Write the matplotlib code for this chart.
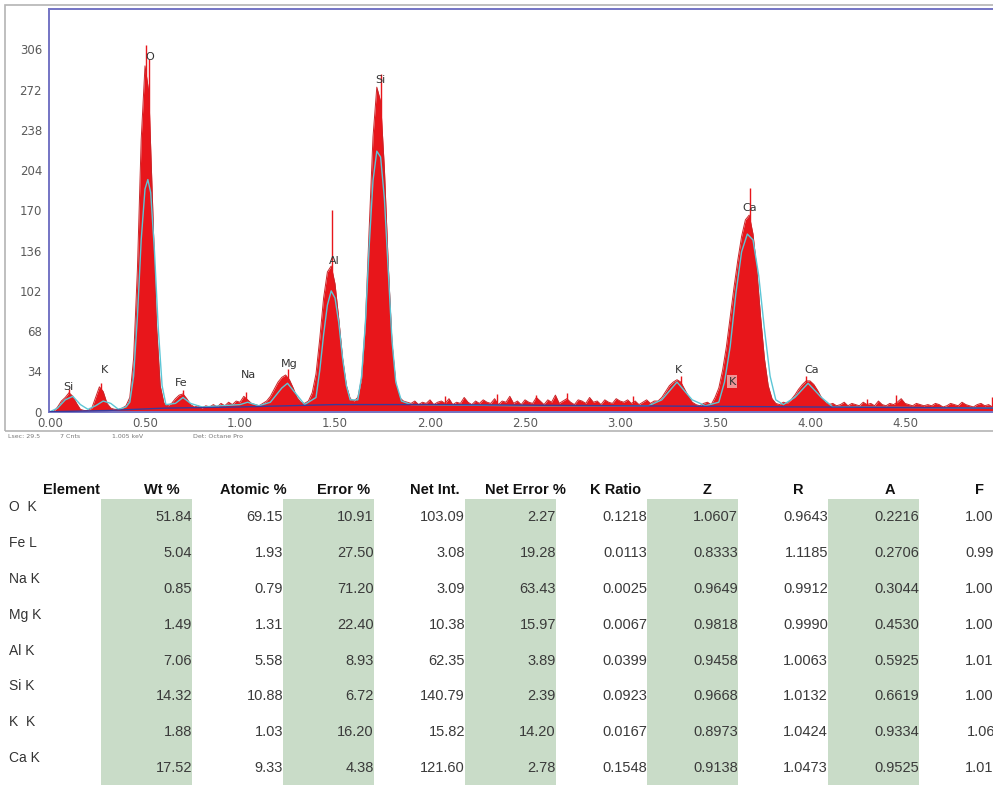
import numpy as np
import matplotlib
matplotlib.use("Agg")
import matplotlib.pyplot as plt
from matplotlib.patches import Rectangle

### DATA ###

# spectrum counts, one value per 0.02 keV channel (0.00 .. 4.98 keV), 10 per row
spectrum_counts = [
    0, 0, 4, 9, 12, 16, 13, 7, 2, 1,                 # 0.00
    1, 3, 12, 21, 17, 7, 3, 2, 2, 3,                 # 0.20
    5, 12, 45, 120, 230, 292, 270, 175, 75, 22,      # 0.40
    7, 5, 7, 11, 14, 15, 11, 6, 4, 5,                # 0.60
    3, 5, 4, 6, 4, 7, 5, 8, 6, 9,                    # 0.80
    8, 13, 10, 7, 6, 5, 7, 9, 13, 19,                # 1.00
    25, 29, 31, 27, 20, 12, 8, 7, 9, 16,             # 1.20
    32, 62, 96, 118, 123, 108, 78, 45, 22, 11,       # 1.40
    9, 12, 28, 75, 155, 232, 274, 262, 205, 125,     # 1.60
    58, 24, 12, 9, 8, 7, 9, 6, 8, 7,                 # 1.80
    10, 6, 8, 9, 7, 11, 6, 8, 7, 12,                 # 2.00
    8, 6, 9, 7, 10, 8, 7, 11, 6, 9,                  # 2.20
    8, 13, 7, 9, 6, 10, 8, 7, 12, 9,                 # 2.40
    6, 10, 8, 14, 7, 9, 11, 8, 6, 10,                # 2.60
    9, 7, 12, 8, 9, 6, 10, 8, 7, 11,                 # 2.80
    9, 8, 10, 7, 9, 6, 8, 10, 7, 9,                  # 3.00
    9, 12, 17, 22, 25, 27, 25, 19, 13, 8,            # 3.20
    6, 5, 7, 8, 6, 12, 20, 35, 55, 80,               # 3.40
    105, 128, 148, 162, 166, 150, 120, 80, 45, 22,   # 3.60
    11, 7, 6, 8, 7, 10, 14, 19, 23, 26,              # 3.80
    26, 23, 18, 12, 8, 6, 7, 5, 6, 8,                # 4.00
    5, 7, 6, 5, 8, 6, 7, 5, 9, 6,                    # 4.20
    5, 7, 6, 8, 11, 7, 6, 5, 7, 6,                   # 4.40
    5, 6, 5, 7, 6, 4, 5, 7, 6, 5,                    # 4.60
    8, 6, 5, 4, 6, 7, 5, 6, 4, 5,                    # 4.80
]
channel_width = 0.02

# single-channel spikes sticking out of the peaks / background
spike_energy = [0.505, 0.52, 1.485, 1.74, 3.685, 1.03, 1.25, 2.35, 2.72, 3.32, 3.98,
                4.45, 4.96, 0.10, 0.27, 0.70, 2.08, 2.56, 3.07, 4.30]
spike_counts = [310, 298, 170, 285, 189, 17, 36, 15, 16, 30, 30,
                14, 12, 19, 24, 18, 13, 14, 13, 11]

# fitted spectrum (cyan)
fit_energy = [0.00, 0.04, 0.08, 0.12, 0.16, 0.20, 0.24, 0.28, 0.32, 0.36, 0.40,
              0.42, 0.44, 0.46, 0.48, 0.50, 0.515, 0.53, 0.55, 0.57, 0.59, 0.61,
              0.66, 0.70, 0.74, 0.80, 0.90, 1.00, 1.04, 1.10, 1.16, 1.22, 1.25, 1.28,
              1.34, 1.38, 1.40, 1.42, 1.44, 1.46, 1.48, 1.50, 1.52, 1.54, 1.56, 1.58,
              1.62, 1.64, 1.66, 1.68, 1.70, 1.72, 1.74, 1.76, 1.78, 1.80, 1.82, 1.85,
              1.90, 2.50, 3.15, 3.22, 3.30, 3.38, 3.45, 3.52, 3.55, 3.58, 3.61, 3.64,
              3.67, 3.70, 3.73, 3.76, 3.79, 3.82, 3.86, 3.92, 3.99, 4.06, 4.12, 5.00]
fit_counts = [0, 3, 10, 13, 6, 2, 5, 9, 7, 2, 4,
              8, 30, 80, 145, 188, 196, 185, 135, 70, 22, 6,
              7, 12, 7, 4, 5, 6, 8, 5, 8, 20, 24, 18,
              6, 10, 12, 35, 65, 90, 102, 96, 75, 45, 22, 10,
              10, 30, 75, 140, 195, 220, 215, 180, 120, 60, 25, 9,
              6, 5, 5, 10, 25, 10, 5, 8, 25, 55, 100, 135,
              150, 145, 115, 70, 30, 10, 6, 12, 24, 12, 4, 3]

# background (dark blue)
bkg_energy = [0.0, 0.3, 0.6, 1.0, 1.5, 2.0, 3.0, 4.0, 5.0]
bkg_counts = [0, 1, 3, 4, 6, 6, 5, 4, 3]

# peak labels
peak_labels = ["Si", "K", "O", "Fe", "Na", "Mg", "Al", "Si", "K", "K", "Ca", "Ca"]
peak_label_energy = [0.095, 0.285, 0.525, 0.69, 1.045, 1.26, 1.495, 1.74, 3.31, 3.59, 3.685, 4.01]
peak_label_counts = [17, 31, 295, 20, 27, 36, 123, 276, 31, 21, 168, 31]

y_ticks = [0, 34, 68, 102, 136, 170, 204, 238, 272, 306]
x_ticks = [0.0, 0.5, 1.0, 1.5, 2.0, 2.5, 3.0, 3.5, 4.0, 4.5]

status_items = ["Lsec: 29.5", "7 Cnts", "1.005 keV", "Det: Octane Pro"]

# quantification table
table_headers = ["Element", "Wt %", "Atomic %", "Error %", "Net Int.", "Net Error %",
                 "K Ratio", "Z", "R", "A", "F"]
elements = ["O  K", "Fe L", "Na K", "Mg K", "Al K", "Si K", "K  K", "Ca K"]
wt_pct = ["51.84", "5.04", "0.85", "1.49", "7.06", "14.32", "1.88", "17.52"]
atomic_pct = ["69.15", "1.93", "0.79", "1.31", "5.58", "10.88", "1.03", "9.33"]
error_pct = ["10.91", "27.50", "71.20", "22.40", "8.93", "6.72", "16.20", "4.38"]
net_int = ["103.09", "3.08", "3.09", "10.38", "62.35", "140.79", "15.82", "121.60"]
net_error = ["2.27", "19.28", "63.43", "15.97", "3.89", "2.39", "14.20", "2.78"]
k_ratio = ["0.1218", "0.0113", "0.0025", "0.0067", "0.0399", "0.0923", "0.0167", "0.1548"]
z_corr = ["1.0607", "0.8333", "0.9649", "0.9818", "0.9458", "0.9668", "0.8973", "0.9138"]
r_corr = ["0.9643", "1.1185", "0.9912", "0.9990", "1.0063", "1.0132", "1.0424", "1.0473"]
a_corr = ["0.2216", "0.2706", "0.3044", "0.4530", "0.5925", "0.6619", "0.9334", "0.9525"]
f_corr = ["1.0000", "0.9950", "1.0031", "1.0042", "1.0107", "1.0034", "1.0611", "1.0126"]

### LAYOUT (pixels) ###

W, H = 993, 785
RED = "#e8161b"
CYAN = "#5cc6d6"
SPINE = "#7474c4"
GREEN = "#c9dcc8"


def fx(px):
    return px / W


def fy(py):
    return 1 - py / H


def draw_spectrum(fig):
    ax = fig.add_axes([fx(49), fy(411.7), fx(1000) - fx(49), fy(9) - fy(411.7)])
    energy = np.arange(len(spectrum_counts)) * channel_width

    ax.fill_between(energy, 0, spectrum_counts, color=RED, linewidth=0, zorder=2)
    ax.plot(energy, spectrum_counts, color="#c8262a", linewidth=0.7, zorder=2)
    ax.vlines(spike_energy, 0, spike_counts, color=RED, linewidth=1.0, zorder=2)
    ax.plot(fit_energy, fit_counts, color=CYAN, linewidth=1.0, zorder=3)
    ax.plot(bkg_energy, bkg_counts, color="#3a3a9a", linewidth=1.0, zorder=3)

    for txt, e, c in zip(peak_labels, peak_label_energy, peak_label_counts):
        kw = dict(ha="center", va="bottom", fontsize=8, color="#333333", zorder=5)
        if txt == "K" and e > 3.5:
            kw["bbox"] = dict(boxstyle="square,pad=0.15", facecolor="#f2a3a3",
                              edgecolor="none", alpha=0.9)
        ax.text(e, c, txt, **kw)

    ax.set_xlim(-1 / 190, 951 / 190 - 1 / 190)
    ax.set_ylim(0, 340)
    ax.set_xticks(x_ticks)
    ax.set_xticklabels([f"{v:.2f}" for v in x_ticks])
    ax.set_yticks(y_ticks)
    ax.tick_params(axis="both", length=0, labelsize=8.5, labelcolor="#5a5a5a")
    ax.tick_params(axis="x", pad=4)
    ax.tick_params(axis="y", pad=5)
    for side in ["left", "top", "bottom"]:
        ax.spines[side].set_color(SPINE)
        ax.spines[side].set_linewidth(1.4)
    ax.spines["right"].set_visible(False)

    # outer grey frame of the spectrum window
    fig.patches.append(Rectangle((fx(5), fy(431)), fx(1005) - fx(5), fy(5) - fy(431),
                                 transform=fig.transFigure, fill=False,
                                 edgecolor="#b4b4b4", linewidth=1.2))
    for item, px in zip(status_items, [8, 60, 112, 193]):
        fig.text(fx(px), fy(437), item, fontsize=4.5, color="#777777", va="center")


def draw_table(fig):
    columns = [wt_pct, atomic_pct, error_pct, net_int, net_error,
               k_ratio, z_corr, r_corr, a_corr, f_corr]
    right_edges = [192, 283, 374, 465, 556, 647, 738, 828, 919, 1010]
    header_centres = [71, 162, 253, 344, 435, 525, 616, 707, 798, 890, 980]
    shaded = [0, 2, 4, 6, 8]
    row_step = 35.9

    for i in shaded:
        left = right_edges[i] - 91
        fig.patches.append(Rectangle((fx(left), 0), fx(91), fy(499),
                                     transform=fig.transFigure, facecolor=GREEN,
                                     edgecolor="none", zorder=0))

    font = ["Liberation Sans", "DejaVu Sans"]
    for name, cx in zip(table_headers, header_centres):
        fig.text(fx(cx), fy(490), name, ha="center", va="center", fontsize=10.5,
                 fontweight="bold", color="#111111", family=font)

    for r, el in enumerate(elements):
        fig.text(fx(9), fy(507 + r * row_step), el, ha="left", va="center",
                 fontsize=10, color="#333333", family=font)
        for col, right in zip(columns, right_edges):
            fig.text(fx(right), fy(517 + r * row_step), col[r], ha="right", va="center",
                     fontsize=10.5, color="#3a3a3a", family=font)


### MAIN ###

if __name__ == "__main__":
    fig = plt.figure(figsize=(W / 100, H / 100), dpi=100)
    draw_spectrum(fig)
    draw_table(fig)
    fig.savefig("out.png", dpi=100)
